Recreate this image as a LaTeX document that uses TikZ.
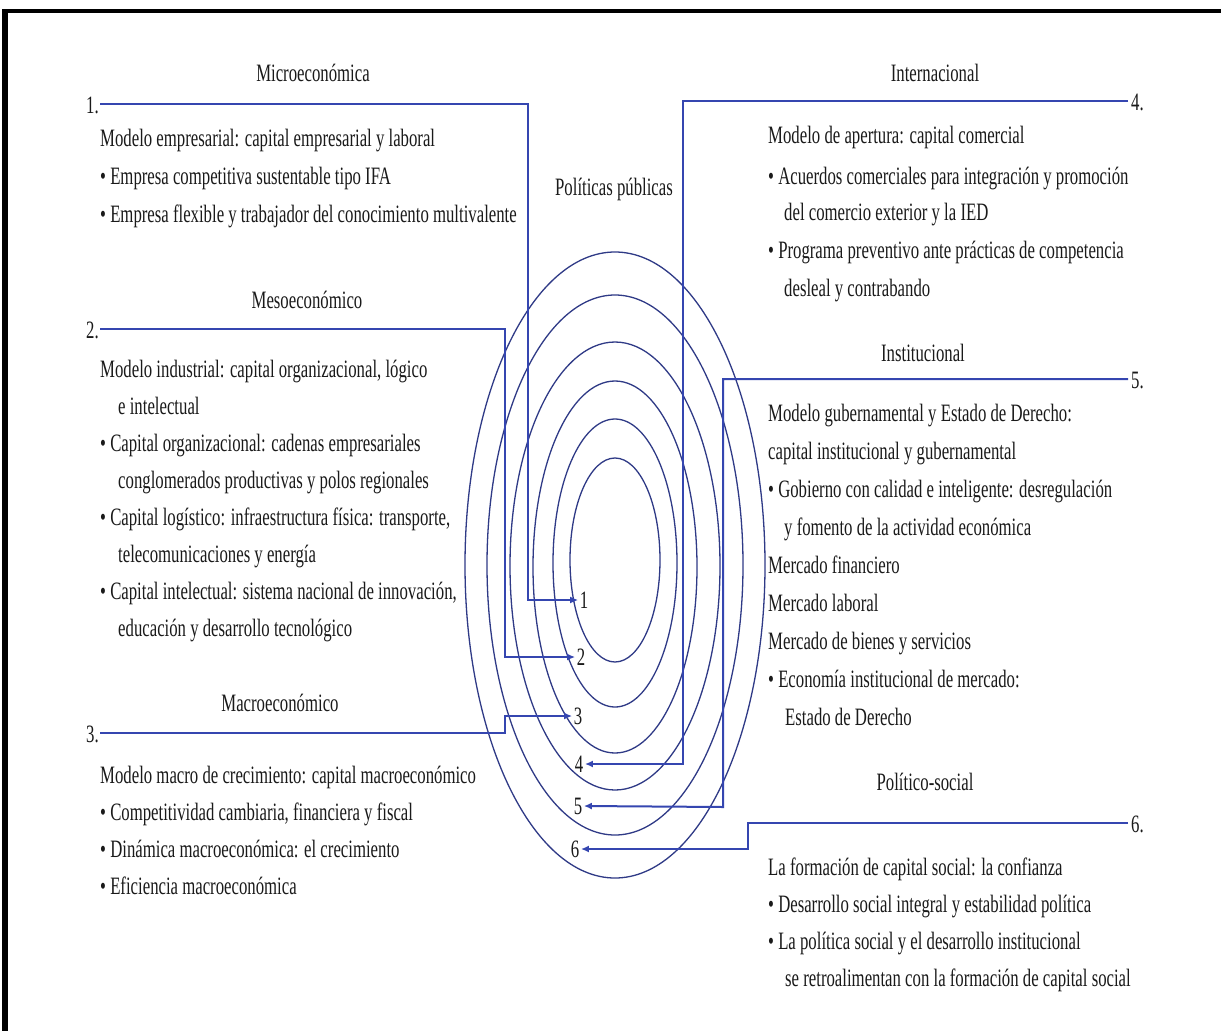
\documentclass[tikz,border=0pt]{standalone}
\usepackage{fontspec}
\setmainfont{Liberation Serif}[FakeStretch=0.67]
\usetikzlibrary{arrows.meta}
\definecolor{ink}{HTML}{1A1A1A}
\definecolor{wire}{HTML}{3546B0}
\definecolor{orbitc}{HTML}{2F3A86}
\newcommand{\bodyfont}{\fontsize{25}{36}\selectfont}
\begin{document}
\begin{tikzpicture}[x=1pt,y=-1pt,
  txt/.style={anchor=base west, inner sep=0pt, font=\bodyfont, text=ink},
  head/.style={anchor=base, inner sep=0pt, font=\bodyfont, text=ink},
  numl/.style={anchor=base east, inner sep=0pt, font=\bodyfont, text=ink},
  numr/.style={anchor=base west, inner sep=0pt, font=\bodyfont, text=ink},
  tag/.style={inner sep=1.5pt, font=\bodyfont, text=ink},
  link/.style={draw=wire, line width=2pt},
  linkarrow/.style={link, -{Latex[length=8pt,width=7pt]}},
  orbit/.style={draw=orbitc, line width=1.3pt}]

% canvas and frame
\fill[white] (0,0) rectangle (1221,1031);
\useasboundingbox (0,0) rectangle (1221,1031);
\fill[black] (2,9) rectangle (1221,13);
\fill[black] (2,9) rectangle (8,1031);

% concentric rings
\draw[orbit] (615,560) ellipse [x radius=45pt,  y radius=102pt];
\draw[orbit] (615,563) ellipse [x radius=62pt,  y radius=144pt];
\draw[orbit] (615,567) ellipse [x radius=82pt,  y radius=186pt];
\draw[orbit] (615,566) ellipse [x radius=105pt, y radius=224pt];
\draw[orbit] (615,565) ellipse [x radius=128pt, y radius=270pt];
\draw[orbit] (615,565) ellipse [x radius=150pt, y radius=313pt];

\node[head] (pp) at (614,195) {Políticas públicas};

% ring numbers
\node[tag] (t1) at (584,600) {1};
\node[tag] (t2) at (581,657) {2};
\node[tag] (t3) at (578,716) {3};
\node[tag] (t4) at (579,764) {4};
\node[tag] (t5) at (578,806) {5};
\node[tag] (t6) at (575,849) {6};

% ---- left column ----
\node[head] (h1) at (313,81) {Microeconómica};
\node[numl] (n1) at (99,113) {1.};
\coordinate (s1) at (100,104);
\coordinate (b1) at (528,600);
\node[txt] (a1) at (100,146) {Modelo empresarial: capital empresarial y laboral};
\node[txt] (a2) at (100,184) {• Empresa competitiva sustentable tipo IFA};
\node[txt] (a3) at (100,222) {• Empresa flexible y trabajador del conocimiento multivalente};

\node[head] (h2) at (307,308) {Mesoeconómico};
\node[numl] (n2) at (99,338) {2.};
\coordinate (s2) at (100,329);
\coordinate (b2) at (505,657);
\node[txt] (m1) at (100,377) {Modelo industrial: capital organizacional, lógico};
\node[txt] (m2) at (118,414) {e intelectual};
\node[txt] (m3) at (100,451) {• Capital organizacional: cadenas empresariales};
\node[txt] (m4) at (118,488) {conglomerados productivas y polos regionales};
\node[txt] (m5) at (100,525) {• Capital logístico: infraestructura física: transporte,};
\node[txt] (m6) at (118,562) {telecomunicaciones y energía};
\node[txt] (m7) at (100,599) {• Capital intelectual: sistema nacional de innovación,};
\node[txt] (m8) at (118,636) {educación y desarrollo tecnológico};

\node[head] (h3) at (280,711) {Macroeconómico};
\node[numl] (n3) at (99,742) {3.};
\coordinate (s3) at (100,733);
\coordinate (b3) at (505,716);
\node[txt] (c1) at (100,783) {Modelo macro de crecimiento: capital macroeconómico};
\node[txt] (c2) at (100,820) {• Competitividad cambiaria, financiera y fiscal};
\node[txt] (c3) at (100,857) {• Dinámica macroeconómica: el crecimiento};
\node[txt] (c4) at (100,894) {• Eficiencia macroeconómica};

% ---- right column ----
\node[head] (h4) at (935,81) {Internacional};
\node[numr] (n4) at (1131,110) {4.};
\coordinate (s4) at (1128,101);
\coordinate (b4) at (683,764);
\node[txt] (i1) at (768,143) {Modelo de apertura: capital comercial};
\node[txt] (i2) at (768,184) {• Acuerdos comerciales para integración y promoción};
\node[txt] (i3) at (784,220) {del comercio exterior y la IED};
\node[txt] (i4) at (768,258) {• Programa preventivo ante prácticas de competencia};
\node[txt] (i5) at (784,296) {desleal y contrabando};

\node[head] (h5) at (923,361) {Institucional};
\node[numr] (n5) at (1131,388) {5.};
\coordinate (s5) at (1128,379);
\coordinate (b5) at (723,807);
\node[txt] (g1) at (768,421) {Modelo gubernamental y Estado de Derecho:};
\node[txt] (g2) at (768,459) {capital institucional y gubernamental};
\node[txt] (g3) at (768,497) {• Gobierno con calidad e inteligente: desregulación};
\node[txt] (g4) at (784,535) {y fomento de la actividad económica};
\node[txt] (g5) at (768,573) {Mercado financiero};
\node[txt] (g6) at (768,611) {Mercado laboral};
\node[txt] (g7) at (768,649) {Mercado de bienes y servicios};
\node[txt] (g8) at (768,687) {• Economía institucional de mercado:};
\node[txt] (g9) at (785,725) {Estado de Derecho};

\node[head] (h6) at (925,790) {Político-social};
\node[numr] (n6) at (1131,832) {6.};
\coordinate (s6) at (1128,823);
\coordinate (b6) at (748,849);
\node[txt] (p1) at (768,875) {La formación de capital social: la confianza};
\node[txt] (p2) at (768,912) {• Desarrollo social integral y estabilidad política};
\node[txt] (p3) at (768,949) {• La política social y el desarrollo institucional};
\node[txt] (p4) at (785,986) {se retroalimentan con la formación de capital social};

% connectors from each level to its ring
\draw[linkarrow] (s1) -| (b1) -- (t1.west);
\draw[linkarrow] (s2) -| (b2) -- (t2.west);
\draw[linkarrow] (s3) -| (b3) -- (t3.west);
\draw[linkarrow] (s4) -| (b4) -- (t4.east);
\draw[linkarrow] (s5) -| (b5) -- (t5.east);
\draw[linkarrow] (s6) -| (b6) -- (t6.east);
\end{tikzpicture}
\end{document}
